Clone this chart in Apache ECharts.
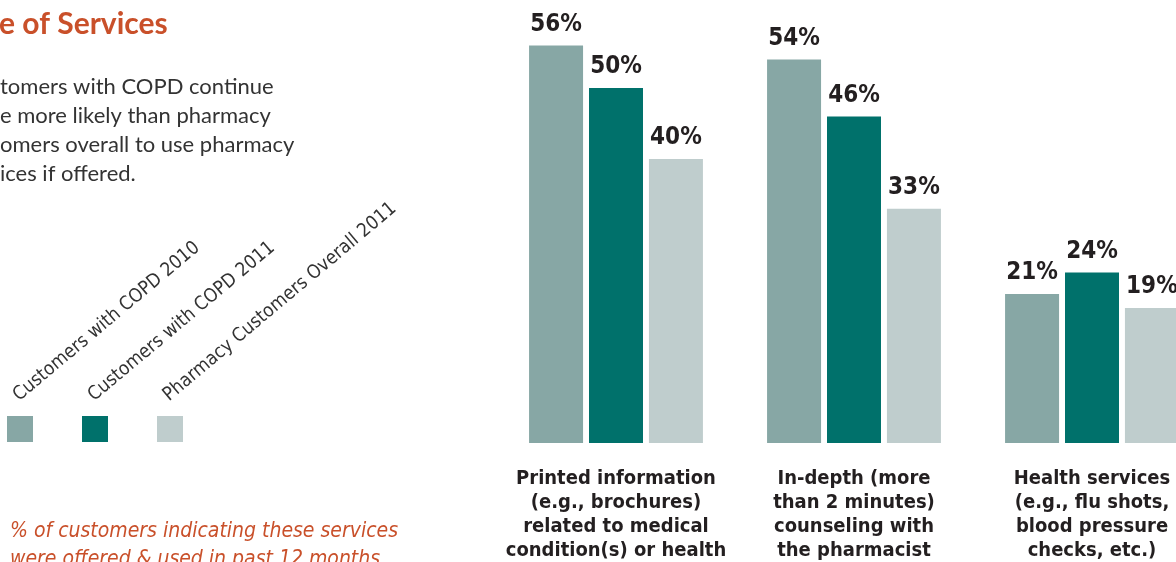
<!DOCTYPE html>
<html>
<head>
<meta charset="utf-8">
<title>Use of Services</title>
<script src="https://cdn.jsdelivr.net/npm/echarts@6/dist/echarts.min.js"></script>
<style>
  html, body { margin: 0; padding: 0; background: #fff; }
  #main { width: 1176px; height: 562px; }
</style>
</head>
<body>
<div id="main"></div>
<script type="text/javascript">
  // data
  var categories = [
    'Printed information\n(e.g., brochures)\nrelated to medical\ncondition(s) or health',
    'In-depth (more\nthan 2 minutes)\ncounseling with\nthe pharmacist',
    'Health services\n(e.g., flu shots,\nblood pressure\nchecks, etc.)'
  ];
  var seriesNames = ['Customers with COPD 2010', 'Customers with COPD 2011', 'Pharmacy Customers Overall 2011'];
  var copd2010 = [56, 54, 21];
  var copd2011 = [50, 46, 24];
  var overall2011 = [40, 33, 19];
  var colors = ['#87a7a5', '#00716b', '#bfcdcd'];

  var narrow = '"Liberation Sans Narrow", "DejaVu Sans Condensed", "Liberation Sans", sans-serif';
  var orange = '#c9502a';
  var ink = '#231f20';

  var myChart = echarts.init(document.getElementById('main'));

  function makeSeries(name, data, color) {
    return {
      name: name,
      type: 'bar',
      data: data,
      barWidth: 54,
      barGap: '11%',
      itemStyle: { color: color },
      label: {
        show: true,
        position: 'top',
        distance: 9,
        formatter: '{c}%',
        color: ink,
        fontFamily: narrow,
        fontWeight: 'bold',
        fontSize: 24
      }
    };
  }

  // hand drawn legend (rotated names above squares)
  var legendItems = [];
  for (var i = 0; i < seriesNames.length; i++) {
    var x0 = 7 + i * 75;
    legendItems.push({
      type: 'rect',
      shape: { x: x0, y: 416, width: 26, height: 26 },
      style: { fill: colors[i] }
    });
    legendItems.push({
      type: 'text',
      x: x0 + 15,
      y: 405,
      rotation: 40 * Math.PI / 180,
      style: {
        text: seriesNames[i],
        fill: '#333',
        font: '300 19px ' + narrow,
        textVerticalAlign: 'bottom'
      }
    });
  }

  var option = {
    animation: false,
    // the plot runs past the right edge, as in the cropped original
    grid: {
      left: 497, width: 714, top: 17, bottom: 119,
      containLabel: false, outerBoundsMode: 'none'
    },
    legend: { show: false },
    xAxis: {
      type: 'category',
      data: categories,
      axisLine: { show: false },
      axisTick: { show: false },
      axisLabel: {
        interval: 0,
        margin: 24,
        color: ink,
        fontFamily: narrow,
        fontWeight: 'bold',
        fontSize: 20,
        lineHeight: 24
      }
    },
    yAxis: { type: 'value', min: 0, max: 60, show: false },
    series: [
      makeSeries(seriesNames[0], copd2010, colors[0]),
      makeSeries(seriesNames[1], copd2011, colors[1]),
      makeSeries(seriesNames[2], overall2011, colors[2])
    ],
    graphic: [
      {
        type: 'text', x: -1, y: 9,
        style: { text: 'e of Services', fill: orange, font: 'bold 30px Lato, "Open Sans", sans-serif' }
      },
      {
        type: 'text', x: 0, y: 72,
        style: {
          text: 'tomers with COPD continue\ne more likely than pharmacy\nomers overall to use pharmacy\nices if offered.',
          fill: '#333', font: '22px Lato, "Open Sans", sans-serif', lineHeight: 29
        }
      },
      {
        type: 'text', x: 10, y: 518,
        style: {
          text: '% of customers indicating these services\nwere offered & used in past 12 months',
          fill: orange, font: 'italic 21px ' + narrow, lineHeight: 28
        }
      }
    ].concat(legendItems)
  };

  myChart.setOption(option);
</script>
</body>
</html>
